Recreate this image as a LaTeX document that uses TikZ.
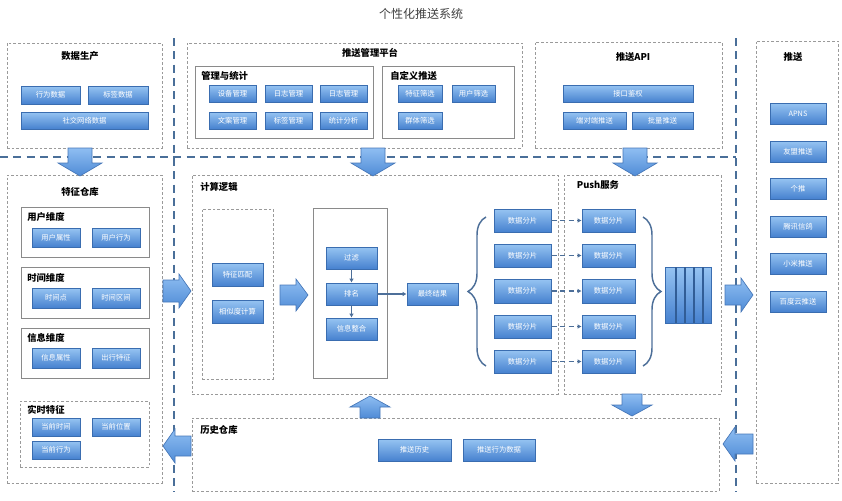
\documentclass[tikz,border=0pt]{standalone}
\usepackage{fontspec}
\setmainfont{Noto Sans CJK SC}
\usetikzlibrary{shadows,decorations.pathreplacing,arrows.meta}
\definecolor{btntop}{HTML}{96C4F2}
\definecolor{btnbot}{HTML}{4681CF}
\definecolor{btnborder}{HTML}{3A6DB0}
\definecolor{artop}{HTML}{8FBEF2}
\definecolor{arbot}{HTML}{4F8BD6}
\definecolor{arborder}{HTML}{4677B8}
\definecolor{sepblue}{HTML}{4A6F99}
\definecolor{dashgray}{HTML}{9A9A9A}
\definecolor{solidgray}{HTML}{8A8A8A}
\definecolor{linkblue}{HTML}{4D6F99}
\newcommand\bx[7]{\node[#1, minimum width={(#4-#2)*0.75pt}, minimum height={(#5-#3)*0.75pt}] (#6) at ({(#2+#4)/2},{(#3+#5)/2}) {#7};}
\newcommand\blockarrow[7]{%
\begin{scope}[shift={(#1,#2)},rotate=#3]
\draw[barrow] ({-#4/2},-#5) -- ({#4/2-#7},-#5) -- ({#4/2-#7},-#6) -- ({#4/2},0) -- ({#4/2-#7},#6) -- ({#4/2-#7},#5) -- ({-#4/2},#5) -- cycle;
\end{scope}}
\tikzset{
  btn/.style={draw=btnborder, line width=0.5pt, top color=btntop, bottom color=btnbot, text=white,
    font=\fontsize{5.5}{6}\selectfont, inner sep=0pt,
    drop shadow={shadow xshift=0.5pt, shadow yshift=-0.8pt, opacity=0.3}},
  dbox/.style={draw=dashgray, dash pattern=on 2pt off 1.5pt, line width=0.5pt, inner sep=0pt},
  sbox/.style={draw=solidgray, line width=0.7pt, fill=white, inner sep=0pt,
    drop shadow={shadow xshift=0.8pt, shadow yshift=-0.8pt, opacity=0.2}},
  ttl/.style={font=\fontsize{7}{8}\selectfont\bfseries, inner sep=0pt},
  sepline/.style={draw=sepblue, line width=1.4pt, dash pattern=on 6pt off 4pt},
  barrow/.style={draw=arborder, line width=0.5pt, top color=artop, bottom color=arbot},
  conn/.style={draw=linkblue, line width=1pt, -{Latex[length=3pt,width=3.5pt]}},
  dconn/.style={draw=linkblue, line width=1.2pt, dash pattern=on 4pt off 2.5pt, -{Latex[length=3pt,width=3.5pt]}},
  bracestyle/.style={draw=linkblue, line width=1.1pt, decorate, decoration={brace, amplitude=13.5pt}},
  queue/.style={draw=btnborder, line width=0.5pt, top color=btntop, bottom color=btnbot, inner sep=0pt}
}
\begin{document}
\begin{tikzpicture}[x=0.75pt,y=-0.75pt]
\useasboundingbox (0,0) rectangle (842,500);
\node[font=\fontsize{9}{10}\selectfont, text=black!75, inner sep=0pt] (title) at (421,14) {个性化推送系统};

% separators
\draw[sepline] (0,157) -- (736,157);
\draw[sepline] (174,38) -- (174,492);
\draw[sepline] (736,38) -- (736,492);

% ---------- 数据生产
\bx{dbox}{7}{43}{162}{148}{dp}{}
\node[ttl] (dpt) at (80,56) {数据生产};
\bx{btn}{21}{86}{80}{104}{d1}{行为数据}
\bx{btn}{88}{86}{148}{104}{d2}{标签数据}
\bx{btn}{21}{112}{148}{129}{d3}{社交网络数据}

% ---------- 推送管理平台
\bx{dbox}{187}{43}{522}{148}{mp}{}
\node[ttl] (mpt) at (370,53) {推送管理平台};
\bx{sbox}{195}{66}{373}{138}{ms}{}
\node[ttl, anchor=west] (mst) at (201,76) {管理与统计};
\bx{btn}{209}{85}{256}{102}{m1}{设备管理}
\bx{btn}{265}{85}{312}{102}{m2}{日志管理}
\bx{btn}{320}{85}{367}{102}{m3}{日志管理}
\bx{btn}{209}{112}{256}{129}{m4}{文案管理}
\bx{btn}{265}{112}{312}{129}{m5}{标签管理}
\bx{btn}{320}{112}{367}{129}{m6}{统计分析}
\bx{sbox}{382}{66}{514}{138}{cp}{}
\node[ttl, anchor=west] (cpt) at (390,76) {自定义推送};
\bx{btn}{398}{85}{442}{102}{c1}{特征筛选}
\bx{btn}{452}{85}{495}{102}{c2}{用户筛选}
\bx{btn}{398}{112}{442}{129}{c3}{群体筛选}

% ---------- 推送API
\bx{dbox}{535}{42}{722}{148}{api}{}
\node[ttl] (apit) at (633,57) {推送API};
\bx{btn}{563}{85}{693}{102}{a1}{接口鉴权}
\bx{btn}{563}{112}{626}{129}{a2}{端对端推送}
\bx{btn}{632}{112}{693}{129}{a3}{批量推送}

% ---------- 推送
\bx{dbox}{756}{41}{838}{483}{ps}{}
\node[ttl] (pst) at (793,57) {推送};
\bx{btn}{770}{103}{826}{124}{p1}{APNS}
\bx{btn}{770}{141}{826}{162}{p2}{友盟推送}
\bx{btn}{770}{178}{826}{199}{p3}{个推}
\bx{btn}{770}{216}{826}{237}{p4}{腾讯信鸽}
\bx{btn}{770}{253}{826}{274}{p5}{小米推送}
\bx{btn}{770}{291}{826}{312}{p6}{百度云推送}

% ---------- 特征仓库
\bx{dbox}{7}{175}{162}{483}{fw}{}
\node[ttl] (fwt) at (80,192) {特征仓库};
\bx{sbox}{21}{207}{149}{257}{ud}{}
\node[ttl, anchor=west] (udt) at (27,217) {用户维度};
\bx{btn}{32}{228}{80}{247}{u1}{用户属性}
\bx{btn}{92}{228}{140}{247}{u2}{用户行为}
\bx{sbox}{21}{267}{149}{318}{td}{}
\node[ttl, anchor=west] (tdt) at (27,278) {时间维度};
\bx{btn}{32}{288}{80}{308}{t1}{时间点}
\bx{btn}{92}{288}{140}{308}{t2}{时间区间}
\bx{sbox}{21}{328}{149}{378}{id}{}
\node[ttl, anchor=west] (idt) at (27,338) {信息维度};
\bx{btn}{32}{348}{80}{368}{i1}{信息属性}
\bx{btn}{92}{348}{140}{368}{i2}{出行特征}
\bx{dbox}{20}{401}{149}{467}{rt}{}
\node[ttl, anchor=west] (rtt) at (27,410) {实时特征};
\bx{btn}{32}{418}{80}{436}{r1}{当前时间}
\bx{btn}{92}{418}{140}{436}{r2}{当前位置}
\bx{btn}{32}{441}{80}{459}{r3}{当前行为}

% ---------- 计算逻辑
\bx{dbox}{192}{175}{558}{394}{cl}{}
\node[ttl, anchor=west] (clt) at (200,187) {计算逻辑};
\bx{dbox}{202}{209}{273}{379}{fm}{}
\bx{btn}{212}{263}{263}{286}{f1}{特征匹配}
\bx{btn}{212}{300}{263}{323}{f2}{相似度计算}
\bx{sbox}{313}{208}{387}{378}{rk}{}
\bx{btn}{326}{247}{377}{269}{gl}{过滤}
\bx{btn}{326}{283}{377}{305}{pm}{排名}
\bx{btn}{326}{318}{377}{340}{xx}{信息整合}
\bx{btn}{407}{283}{458}{305}{zr}{最终结果}
\draw[conn] (gl.south) -- (pm.north);
\draw[conn] (pm.south) -- (xx.north);
\draw[conn] (pm.east) -- (zr.west);

% ---------- Push服务
\bx{dbox}{564}{175}{721}{394}{pu}{}
\node[ttl] (put) at (598,185) {Push服务};

\foreach \i/\ya/\yb in {1/209/232,2/244/267,3/279/303,4/315/338,5/350/373}{
  \bx{btn}{494}{\ya}{551}{\yb}{l\i}{数据分片}
  \bx{btn}{582}{\ya}{635}{\yb}{s\i}{数据分片}
  \draw[dconn] (l\i.east) -- (s\i.west);
}
\coordinate (lb1) at (486,366);
\coordinate (lb2) at (486,217);
\draw[bracestyle] (lb1) -- (lb2);
\coordinate (rb1) at (643,217);
\coordinate (rb2) at (643,366);
\draw[bracestyle] (rb1) -- (rb2);

\bx{queue}{665}{267}{711}{323}{q}{}
\foreach \xq in {676,685,694,703}{
  \draw[btnborder!85!black, line width=0.8pt] (\xq,267) -- (\xq,323);
}

% ---------- 历史仓库
\bx{dbox}{192}{418}{719}{491}{hs}{}
\node[ttl, anchor=west] (hst) at (200,430) {历史仓库};
\bx{btn}{378}{439}{451}{461}{h1}{推送历史}
\bx{btn}{463}{439}{535}{461}{h2}{推送行为数据}

% ---------- block arrows
\blockarrow{80}{162}{-90}{28}{12}{22}{13}
\blockarrow{373}{162}{-90}{28}{12}{22}{13}
\blockarrow{635}{162}{-90}{28}{12}{22}{13}
\blockarrow{177}{291}{0}{28}{11}{17}{12}
\blockarrow{294}{295}{0}{28}{10}{16}{12}
\blockarrow{739}{295}{0}{28}{10}{17}{12}
\blockarrow{177}{446}{180}{28}{10}{17}{12}
\blockarrow{738}{444}{180}{30}{10}{17}{12}
\blockarrow{370}{407}{90}{22}{10}{20}{11}
\blockarrow{632}{405}{-90}{22}{10}{20}{11}
\end{tikzpicture}
\end{document}
